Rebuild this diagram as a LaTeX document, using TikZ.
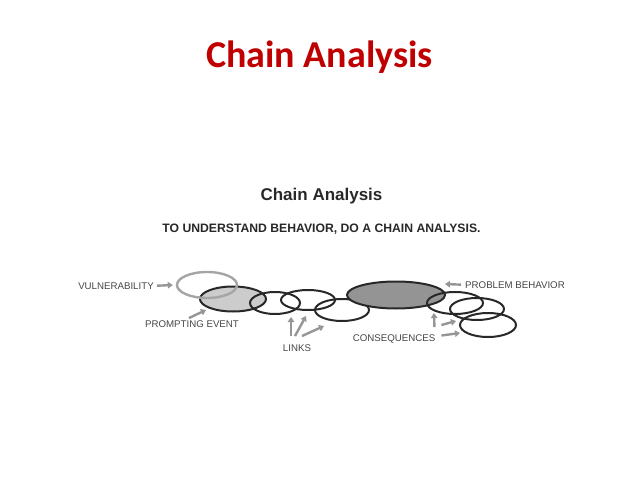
\documentclass[tikz,border=0pt]{standalone}
\usepackage{fontspec}
\setmainfont{Liberation Sans}
\newfontfamily\slidefont{Carlito}
\usepackage{tikz}
\usetikzlibrary{shapes.geometric, arrows.meta, positioning, calc}
\definecolor{slidered}{RGB}{192, 0, 0}
\definecolor{inkgray}{RGB}{40, 40, 40}
\definecolor{lblgray}{RGB}{70, 70, 70}
\definecolor{arrgray}{RGB}{150, 150, 150}
\definecolor{ringgray}{RGB}{165, 165, 165}

\begin{document}
\begin{tikzpicture}[
    x=1pt, y=-1pt,
    link/.style={ellipse, draw=inkgray, line width=2pt, inner sep=0pt},
    lbl/.style={font=\fontsize{9.7}{11}\selectfont, text=lblgray,
                inner sep=1pt, anchor=base},
    arr/.style={-{Triangle[length=5pt, width=6.5pt]}, line width=2.4pt, arrgray}
]
\useasboundingbox (0,0) rectangle (638,479);

% headings
\node[font=\slidefont\bfseries\fontsize{38}{44}\selectfont, text=slidered,
      anchor=base] (title) at (319.5,67) {Chain Analysis};
\node[font=\bfseries\fontsize{17}{20}\selectfont, text=inkgray,
      anchor=base] (subtitle) at (321.5,200) {Chain Analysis};
\node[font=\bfseries\fontsize{12.2}{14}\selectfont, text=inkgray,
      anchor=base] (tagline) at (321.5,232)
      {TO UNDERSTAND BEHAVIOR, DO A CHAIN ANALYSIS.};

% the chain
\node[link, fill=black!20, minimum width=66pt, minimum height=25pt] (prompt) at (233,299) {};
\node[link, draw=ringgray, line width=2.4pt, minimum width=60pt, minimum height=26pt] (vul) at (207,285) {};
\node[link, minimum width=50pt, minimum height=22pt] (linkA) at (275,303) {};
\node[link, minimum width=54pt, minimum height=20pt] (linkB) at (308,300) {};
\node[link, minimum width=54pt, minimum height=22pt] (linkC) at (342,310) {};
\node[link, fill=black!42, minimum width=98pt, minimum height=27pt] (problem) at (396,295) {};
\node[link, minimum width=56pt, minimum height=22pt] (consA) at (455,303) {};
\node[link, minimum width=54pt, minimum height=22pt] (consB) at (477,309) {};
\node[link, minimum width=56pt, minimum height=24pt] (consC) at (488,325) {};

% labels
\node[lbl] (vullbl)  at (116,289) {VULNERABILITY};
\node[lbl] (pelbl)   at (192,327) {PROMPTING EVENT};
\node[lbl] (linkslbl) at (297,351) {LINKS};
\node[lbl] (conslbl) at (394,341) {CONSEQUENCES};
\node[lbl] (pblbl)   at (515,288) {PROBLEM BEHAVIOR};

% arrow tips
\coordinate (petip) at (206,310);
\coordinate (lktipA) at (291,317);
\coordinate (lktipB) at (306,316);
\coordinate (lktipC) at (324,326);
\coordinate (cstipA) at (434,313);
\coordinate (cstipB) at (456,321);
\coordinate (cstipC) at (460,333);
\coordinate (pbtip) at (445,284);

\draw[arr] ([xshift=2pt]vullbl.east) -- ([xshift=-3pt]vul.west);
\draw[arr] ($(pelbl.north)+(-3,-1)$) -- (petip);
\draw[arr] ($(linkslbl.north)+(-6,-7)$) -- (lktipA);
\draw[arr] ($(linkslbl.north)+(-2,-7)$) -- (lktipB);
\draw[arr] ($(linkslbl.north)+(5,-7)$) -- (lktipC);
\draw[arr] ($(conslbl.north east)+(-2,-6)$) -- (cstipA);
\draw[arr] ($(conslbl.north east)+(5,-8)$) -- (cstipB);
\draw[arr] ($(conslbl.east)+(5,-3)$) -- (cstipC);
\draw[arr] ([xshift=-3pt]pblbl.west) -- (pbtip);
\end{tikzpicture}
\end{document}
